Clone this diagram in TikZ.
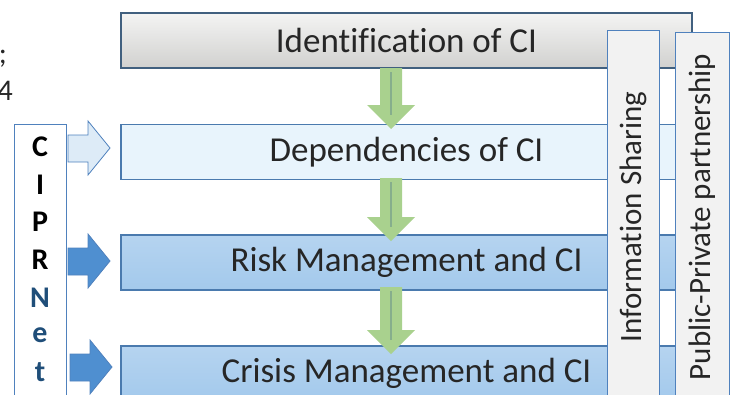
\documentclass[tikz,border=0pt]{standalone}
\usepackage{fontspec}
\setmainfont{Carlito}[Ligatures=NoCommon]
\usepackage{tikz}
\usetikzlibrary{positioning}

\definecolor{txtgray}{HTML}{262626}
\definecolor{boxedge}{HTML}{41607F}
\definecolor{blueedge}{HTML}{4A7AAE}
\definecolor{riskblue}{HTML}{A3C9EC}
\definecolor{deplight}{HTML}{E8F4FC}
\definecolor{idgray}{HTML}{E3E3E1}
\definecolor{arrowgreen}{HTML}{A9D18E}
\definecolor{greenline}{HTML}{86AE8C}
\definecolor{barfill}{HTML}{F2F2F2}
\definecolor{baredge}{HTML}{4F81BD}
\definecolor{netblue}{HTML}{1F4E79}
\definecolor{arrowblue}{HTML}{4F8FD0}
\definecolor{arrowlight}{HTML}{DDEBF7}

\tikzset{
	stepbox/.style={draw=boxedge, line width=1.3pt, minimum width=571, minimum height=55,
		inner sep=0pt, text=txtgray, font=\fontsize{35}{37}\selectfont},
	vbar/.style={draw=baredge, fill=barfill, line width=1pt, rotate=90, inner sep=0pt,
		text=txtgray, font=\fontsize{31}{33}\selectfont},
	letter/.style={font=\bfseries\fontsize{30}{32}\selectfont, inner sep=0pt}
}

\begin{document}
\begin{tikzpicture}[x=1pt,y=-1pt]
		\useasboundingbox (0,0) rectangle (739,394);
		\clip (0,0) rectangle (739,394);
		%text cut off on the left
		\node [anchor=base east, inner sep=0pt, text=txtgray, font=\fontsize{30}{32}\selectfont] (semi) at (7,63) {;};
		\node [anchor=base east, inner sep=0pt, text=txtgray, font=\fontsize{30}{32}\selectfont] (four) at (13,100) {4};
		%Boxes
		\node [stepbox, top color=white!60!idgray, bottom color=idgray!92!black] (ident) at (406.5,40.5) {Identification of CI};
		\node [stepbox, draw=blueedge, fill=deplight] (depend) at (406.5,152) {Dependencies of CI};
		\node [stepbox, draw=blueedge, top color=riskblue!80!white, bottom color=riskblue] (risk) at (406.5,262.5) {Risk Management and CI};
		\node [stepbox, draw=blueedge, top color=riskblue!80!white, bottom color=riskblue] (crisis) at (406.5,373.5) {Crisis Management and CI};
		%green arrows
		\foreach \top/\tip in {68/129, 178/241, 287/354}{
			\fill [arrowgreen] (380,\top) -- (402,\top) -- (402,\tip-24) -- (415,\tip-24) -- (391,\tip)
				-- (367,\tip-24) -- (380,\tip-24) -- cycle;
			\draw [greenline, line width=1.5pt] (391,\top+4) -- (391,\tip-14);
		}
		%bars
		\node [vbar, minimum width=374, minimum height=52] (share) at (633,217) {Information Sharing};
		\node [vbar, minimum width=370, minimum height=54] (ppp) at (702,217) {Public-Private partnership};
		%CIPRNet
		\node [draw=baredge, line width=1pt, minimum width=52, minimum height=290, inner sep=0pt] (ciprnet) at (40,269) {};
		\foreach \l/\c [count=\i from 0] in {C/black, I/black, P/black, R/black, N/netblue, e/netblue, t/netblue}
			\node [letter, text=\c] (l\i) at (40,147+37.6*\i) {\l};
		%blue arrows
		\draw [fill=arrowlight, draw=baredge, line width=0.8pt] (68,135) -- (88,135) -- (88,121) -- (110,148)
			-- (88,175) -- (88,162) -- (68,162) -- cycle;
		\draw [fill=arrowblue, draw=baredge, line width=0.8pt] (68,248) -- (88,248) -- (88,234) -- (110,261)
			-- (88,288) -- (88,275) -- (68,275) -- cycle;
		\draw [fill=arrowblue, draw=baredge, line width=0.8pt] (70,354) -- (90,354) -- (90,340) -- (112,367)
			-- (90,394) -- (90,381) -- (70,381) -- cycle;
	\end{tikzpicture}
\end{document}
